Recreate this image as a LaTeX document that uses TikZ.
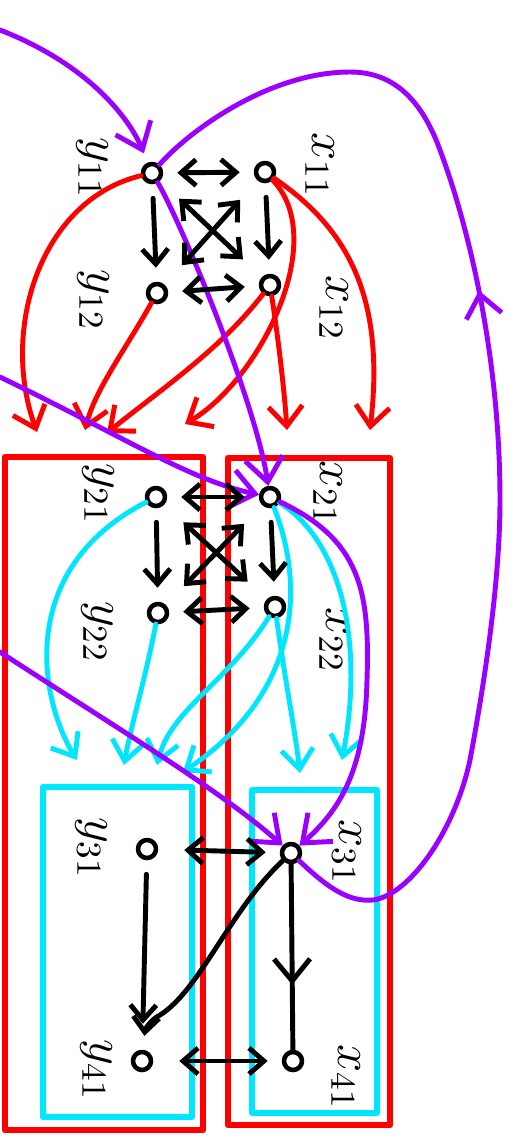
\documentclass[tikz,border=0pt]{standalone}
\usepackage{amsmath}
\usepackage{tikz}
\usetikzlibrary{arrows.meta,decorations.markings}
\definecolor{penred}{RGB}{255,0,0}
\definecolor{pencyan}{RGB}{0,230,255}
\definecolor{penpurple}{RGB}{155,0,255}
\tikzset{
  dot/.style={circle, draw=black, line width=1.3pt, minimum size=1.8mm, inner sep=0pt},
  lbl/.style={rotate=-90, font=\Large, inner sep=0pt},
  arrow/.style={-{Straight Barb[length=1.5mm,width=2.6mm]}, line width=1.4pt, shorten >=1.4mm, shorten <=1.4mm},
  twoarrow/.style={arrow, {Straight Barb[length=1.5mm,width=2.6mm]}-{Straight Barb[length=1.5mm,width=2.6mm]}},
  redarrow/.style={-{Straight Barb[length=2mm,width=3.4mm]}, draw=penred, line width=1.4pt},
  cyanarrow/.style={-{Straight Barb[length=2mm,width=3.2mm]}, draw=pencyan, line width=1.4pt},
  purplearrow/.style={-{Straight Barb[length=2.4mm,width=3.8mm]}, draw=penpurple, line width=1.4pt},
  purpleline/.style={draw=penpurple, line width=1.4pt},
  midtip/.style={postaction={decorate}, decoration={markings, mark=at position #1 with {\arrow{Straight Barb[length=2.2mm,width=3.6mm]}}}},
  redbox/.style={draw=penred, line width=1.9pt},
  cyanbox/.style={draw=pencyan, line width=1.7pt}
}
\begin{document}
\begin{tikzpicture}[line cap=round, line join=round]
\useasboundingbox (0,0) rectangle (5.09,-11.36);

\draw[redbox] (0.05,-4.57) rectangle (2.03,-11.30);
\draw[redbox] (2.28,-4.58) rectangle (3.90,-11.25);
\draw[cyanbox] (0.43,-7.87) rectangle (1.92,-11.17);
\draw[cyanbox] (2.52,-7.90) rectangle (3.77,-11.13);

\node[dot] (y11) at (1.52,-1.73) {};
\node[dot] (x11) at (2.65,-1.72) {};
\node[dot] (y12) at (1.57,-2.93) {};
\node[dot] (x12) at (2.70,-2.85) {};
\node[dot] (y21) at (1.56,-4.97) {};
\node[dot] (x21) at (2.70,-4.97) {};
\node[dot] (y22) at (1.58,-6.13) {};
\node[dot] (x22) at (2.75,-6.07) {};
\node[dot] (y31) at (1.47,-8.49) {};
\node[dot] (x31) at (2.91,-8.53) {};
\node[dot] (y41) at (1.42,-10.61) {};
\node[dot] (x41) at (2.93,-10.61) {};

\node[lbl] (ly11) at (0.92,-1.68) {$y_{11}$};
\node[lbl] (lx11) at (3.20,-1.65) {$x_{11}$};
\node[lbl] (ly12) at (0.93,-3.00) {$y_{12}$};
\node[lbl] (lx12) at (3.34,-3.08) {$x_{12}$};
\node[lbl] (ly21) at (0.98,-4.94) {$y_{21}$};
\node[lbl] (lx21) at (3.28,-4.93) {$x_{21}$};
\node[lbl] (ly22) at (0.97,-6.32) {$y_{22}$};
\node[lbl] (lx22) at (3.34,-6.40) {$x_{22}$};
\node[lbl] (ly31) at (0.91,-8.48) {$y_{31}$};
\node[lbl] (lx31) at (3.47,-8.52) {$x_{31}$};
\node[lbl] (ly41) at (0.96,-10.70) {$y_{41}$};
\node[lbl] (lx41) at (3.46,-10.77) {$x_{41}$};

\coordinate (r1) at (0.37,-4.32);
\coordinate (r2) at (0.85,-4.30);
\coordinate (r3) at (1.07,-4.33);
\coordinate (r4) at (1.85,-4.24);
\coordinate (r5) at (2.87,-4.30);
\coordinate (r6) at (3.70,-4.30);
\coordinate (c1) at (0.77,-7.60);
\coordinate (c2) at (1.24,-7.65);
\coordinate (c3) at (1.57,-7.65);
\coordinate (c4) at (1.83,-7.72);
\coordinate (c5) at (3.00,-7.73);
\coordinate (c6) at (3.42,-7.60);
\coordinate (in1) at (0,-0.30);
\coordinate (in2) at (0,-3.77);
\coordinate (in3) at (0,-6.52);

\draw[redarrow] (y11) .. controls (0.4,-2.0) and (0.0,-3.3) .. (r1);
\draw[redarrow] (y12) .. controls (1.25,-3.5) and (0.95,-3.9) .. (r2);
\draw[redarrow] (x12) .. controls (2.2,-3.5) and (1.6,-3.9) .. (r3);
\draw[redarrow] (x11) .. controls (3.3,-2.4) and (2.6,-3.8) .. (r4);
\draw[redarrow] (x12) .. controls (2.8,-3.5) and (2.85,-4.0) .. (r5);
\draw[redarrow] (x11) .. controls (3.5,-2.3) and (3.85,-3.0) .. (r6);

\draw[cyanarrow] (y21) .. controls (0.15,-5.7) and (0.4,-7.0) .. (c1);
\draw[cyanarrow] (y22) .. controls (1.45,-6.8) and (1.3,-7.3) .. (c2);
\draw[cyanarrow] (x22) .. controls (2.3,-6.8) and (1.7,-7.1) .. (c3);
\draw[cyanarrow] (x21) .. controls (3.1,-6.0) and (2.9,-7.0) .. (c4);
\draw[cyanarrow] (x22) .. controls (2.85,-6.8) and (2.95,-7.3) .. (c5);
\draw[cyanarrow] (x21) .. controls (3.4,-5.4) and (3.65,-6.4) .. (c6);

\draw[purplearrow, shorten >=1mm] (in1) .. controls (0.9,-0.65) and (1.3,-1.2) .. (y11);
\draw[purplearrow] (y11) .. controls (1.8,-2.2) and (2.55,-4.0) .. (x21);
\draw[purplearrow] (in2) .. controls (1.3,-4.4) and (1.9,-4.8) .. (x21);
\draw[purplearrow] (x21) .. controls (3.6,-5.4) and (3.7,-5.9) .. (3.67,-6.8) .. controls (3.65,-7.7) and (3.4,-8.1) .. (x31);
\draw[purplearrow] (in3) .. controls (1.2,-7.3) and (2.2,-7.9) .. (x31);
\draw[purpleline, midtip=0.6] (x31) .. controls (3.3,-8.9) and (3.5,-9.02) .. (3.73,-9.0)
  .. controls (4.1,-8.95) and (4.55,-8.3) .. (4.70,-7.6)
  .. controls (4.85,-6.8) and (5.0,-5.8) .. (5.0,-5.0)
  .. controls (5.0,-3.6) and (4.7,-2.3) .. (4.40,-1.5)
  .. controls (4.2,-0.95) and (3.9,-0.72) .. (3.50,-0.72)
  .. controls (2.7,-0.72) and (1.9,-1.3) .. (y11);

\draw[twoarrow] (y11) -- (x11);
\draw[arrow] (y11) -- (y12);
\draw[arrow] (x11) -- (x12);
\draw[twoarrow, shorten >=2.6mm, shorten <=2.6mm] (y11) -- (x12);
\draw[twoarrow, shorten >=2.6mm, shorten <=2.6mm] (y12) -- (x11);
\draw[twoarrow] (y12) -- (x12);

\draw[twoarrow] (y21) -- (x21);
\draw[arrow] (y21) -- (y22);
\draw[arrow] (x21) -- (x22);
\draw[twoarrow, shorten >=2.6mm, shorten <=2.6mm] (y21) -- (x22);
\draw[twoarrow, shorten >=2.6mm, shorten <=2.6mm] (y22) -- (x21);
\draw[twoarrow] (y22) -- (x22);

\draw[twoarrow, shorten <=2.6mm] (y31) -- (x31);
\draw[arrow, shorten >=2.6mm] (y31) -- (y41);
\draw[line width=1.4pt, midtip=0.65] (x31) -- (x41);
\draw[arrow, shorten <=0mm] (x31) .. controls (2.3,-9.1) and (2.0,-9.9) .. (1.6,-10.15) .. controls (1.5,-10.2) and (1.45,-10.3) .. (y41);
\draw[twoarrow, shorten <=2.6mm] (y41) -- (x41);
\end{tikzpicture}
\end{document}
